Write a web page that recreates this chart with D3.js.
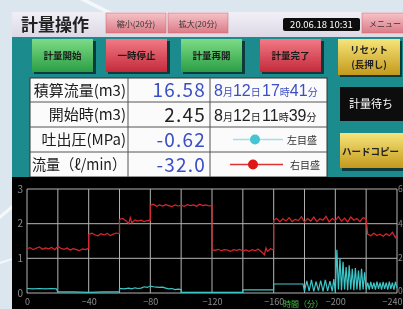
<!DOCTYPE html>
<html><head><meta charset="utf-8">
<script src="https://cdn.jsdelivr.net/npm/d3@7"></script>
<style>
html,body{margin:0;padding:0;background:#dce6ee;overflow:hidden}
svg{display:block}
text{font-family:"Noto Sans CJK JP","Noto Sans",sans-serif}
</style></head><body>
<svg id="c" width="403" height="309"></svg>
<script>
// ---------- data ----------
const timeTicks = [0,-40,-80,-120,-160,-200,-240];
const gridTimes = [0,-20,-40,-60,-80,-100,-120,-140,-160,-180,-200,-220,-240];
const leftTicks = [0,1,2,3];
const rightTicks = [0,2,4,6];
const rowLabels = ["積算流量(m3)","開始時(m3)","吐出圧(MPa)","流量（ℓ/min）"];
const rowValues = ["16.58","2.45","-0.62","-32.0"];
const dateTexts = ["8月12日 17時41分","8月12日 11時39分"];
const legendNames = ["左目盛","右目盛"];
const topButtons = ["縮小(20分)","拡大(20分)"];
const actionButtons = ["計量開始","一時停止","計量再開","計量完了"];
const statusText = "計量待ち";
const clockText = "20.06.18 10:31";
// red series (right scale), [time, value]
const redSeries = [[0,2.55],[-2,2.62],[-4,2.5],[-6,2.58],[-8,2.66],[-10,2.52],[-12,2.6],[-14,2.55],[-16,2.63],[-18,2.5],[-20,2.68],[-22,2.58],[-24,2.52],[-26,2.6],[-28,2.48],[-30,2.56],[-32,2.5],[-34,2.44],[-36,2.55],[-38,2.5],[-40,2.58],
[-40,3.38],[-42,3.45],[-44,3.36],[-46,3.3],[-48,3.42],[-50,3.35],[-52,3.44],[-54,3.32],[-56,3.4],[-58,3.46],[-60,3.42],
[-60,4.25],[-62,4.3],[-64,4.18],[-66,4.0],[-67,4.35],[-68,4.05],[-70,4.22],[-72,4.15],[-74,4.2],[-76,4.12],[-78,4.18],[-80,4.2],
[-80,5.05],[-82,5.12],[-84,5.0],[-86,5.08],[-88,5.02],[-90,5.1],[-92,5.04],[-94,4.98],[-96,5.08],[-98,5.02],[-100,5.06],[-102,5.0],[-104,5.1],[-106,5.04],[-108,5.08],[-110,5.0],[-112,5.12],[-114,5.04],[-116,5.08],[-118,5.02],[-120,5.06],
[-120,2.5],[-122,2.46],[-124,2.52],[-126,2.44],[-128,2.5],[-130,2.48],[-132,2.4],[-134,2.5],[-136,2.46],[-138,2.52],[-140,2.42],[-142,2.48],[-144,2.4],[-146,2.5],[-148,2.44],[-150,2.52],[-152,2.38],[-154,2.2],[-155,2.6],[-156,2.4],[-158,2.55],[-160,2.48],
[-160,4.2],[-162,4.3],[-164,4.1],[-166,4.28],[-168,4.15],[-170,4.35],[-172,4.12],[-174,4.25],[-176,4.18],[-178,4.4],[-180,4.1],[-182,4.3],[-184,4.15],[-186,4.38],[-188,4.12],[-190,4.28],[-192,4.2],[-194,4.42],[-196,4.1],[-198,4.3],[-200,4.18],[-202,4.4],[-204,4.15],[-206,4.32],[-208,4.1],[-210,4.38],[-212,4.2],[-214,4.3],[-216,4.12],[-218,4.35],[-220,4.25],
[-221,3.4],[-223,3.3],[-225,3.45],[-227,3.32],[-229,3.4],[-231,3.28],[-233,3.42],[-235,3.3],[-237,3.5],[-239,3.2],[-240,3.35]];
// cyan series (left scale), [time, value]
const cyanSeries = [[0,0.13],[-4,0.12],[-8,0.13],[-12,0.12],[-16,0.13],[-19,0.12],[-20,0.03],[-30,0.03],[-40,0.02],[-50,0.03],[-60,0.03],
[-60,0.13],[-63,0.12],[-66,0.14],[-68,0.12],[-70,0.15],[-72,0.13],[-74,0.14],[-76,0.18],[-78,0.16],[-80,0.2],[-82,0.18],[-84,0.17],[-86,0.16],[-88,0.17],[-90,0.14],[-92,0.12],[-94,0.13],[-96,0.1],[-98,0.11],[-100,0.1],
[-100,0.02],[-110,0.02],[-120,0.02],[-130,0.02],[-140,0.02],[-140,0.09],[-150,0.09],[-160,0.09],[-160,0.26],[-170,0.26],[-179,0.26],
[-180,0.05],[-181.5,0.35],[-183,0.06],[-184.5,0.38],[-186,0.05],[-187.5,0.33],[-189,0.07],[-190.5,0.36],[-192,0.05],[-193.5,0.38],[-195,0.06],[-196.5,0.34],[-198,0.05],[-199,0.4],
[-200,0.04],[-201,1.25],[-202,0.1],[-203,1.0],[-204,0.08],[-205,0.9],[-206,0.1],[-207,0.75],[-208,0.08],[-209,0.8],[-210,0.1],[-211,0.7],[-212,0.08],[-213,0.72],[-214,0.1],[-215,0.65],[-216,0.08],[-217,0.7],[-218,0.1],[-219,0.6],[-220,0.1],
[-221,0.3],[-222,0.1],[-223,0.32],[-224,0.12],[-225,0.3],[-226,0.1],[-227,0.33],[-228,0.12],[-229,0.3],[-230,0.1],[-231,0.32],[-232,0.12],[-233,0.3],[-234,0.1],[-235,0.33],[-236,0.12],[-237,0.3],[-238,0.1],[-239,0.32],[-240,0.15]];

// ---------- drawing ----------
const root = d3.select("#c");
const defs = root.append("defs");
defs.append("filter").attr("id","soft").attr("x",0).attr("y",0).attr("width",1).attr("height",1)
  .append("feGaussianBlur").attr("stdDeviation",0.35);
const svg = root.append("g").attr("filter","url(#soft)");
function grad(id, top, bot){
  const g = defs.append("linearGradient").attr("id",id).attr("x1",0).attr("y1",0).attr("x2",0).attr("y2",1);
  g.append("stop").attr("offset","0%").attr("stop-color",top);
  g.append("stop").attr("offset","100%").attr("stop-color",bot);
}
grad("gGreen","#7ddc86","#2b9e45");
grad("gRed","#f27a86","#c42a3a");
grad("gYellow","#f6e47a","#c49a1c");
grad("gPink","#f5c3c8","#dc7a86");
grad("gTitle","#f1eff6","#dcd9e6");

// background swooshes
svg.append("rect").attr("width",403).attr("height",309).attr("fill","#dce6ee");
svg.append("path").attr("d","M88,0 L112,12 L104,12 L80,0Z").attr("fill","#f4f8fb");
svg.append("path").attr("d","M0,215 L12,205 L12,209 L0,219Z").attr("fill","#f4f8fb");
svg.append("path").attr("d","M0,262 L12,258 L12,260 L0,264Z").attr("fill","#f4f8fb");

// title bar
svg.append("rect").attr("x",12).attr("y",12).attr("width",391).attr("height",25).attr("fill","url(#gTitle)");
svg.append("text").attr("x",21).attr("y",31).attr("font-size",17).attr("font-weight","bold").attr("fill","#222").text("計量操作");
topButtons.forEach((t,i)=>{
  const x = 106 + i*62;
  svg.append("rect").attr("x",x).attr("y",13).attr("width",60).attr("height",20).attr("fill","url(#gPink)").attr("stroke","#c66").attr("stroke-width",0.5);
  svg.append("text").attr("x",x+30).attr("y",26.5).attr("text-anchor","middle").attr("font-size",8).attr("fill","#333").text(t);
});
svg.append("rect").attr("x",283).attr("y",18).attr("width",77).attr("height",13).attr("rx",2).attr("fill","#111");
svg.append("text").attr("x",321.5).attr("y",28).attr("text-anchor","middle").attr("font-size",9.5).attr("font-family","Liberation Sans").attr("fill","#fff").text(clockText);
svg.append("rect").attr("x",362).attr("y",13).attr("width",45).attr("height",20).attr("fill","url(#gPink)").attr("stroke","#c66").attr("stroke-width",0.5);
svg.append("text").attr("x",369).attr("y",26.5).attr("font-size",8).attr("fill","#333").text("メニュー");

// teal panel
svg.append("rect").attr("x",12).attr("y",37).attr("width",391).attr("height",141).attr("fill","#1f8b8d");

// action buttons
const btnX = [32,106,181,260];
const btnFill = ["url(#gGreen)","url(#gRed)","url(#gGreen)","url(#gRed)"];
actionButtons.forEach((t,i)=>{
  svg.append("rect").attr("x",btnX[i]+2).attr("y",41).attr("width",62).attr("height",33).attr("fill","#0d3b3c");
  svg.append("rect").attr("x",btnX[i]).attr("y",39).attr("width",61).attr("height",33).attr("fill",btnFill[i]);
  svg.append("text").attr("x",btnX[i]+30.5).attr("y",59).attr("text-anchor","middle").attr("font-size",9.5).attr("font-weight","bold").attr("fill","#1a1a1a").text(t);
});
// reset button
svg.append("rect").attr("x",340).attr("y",41).attr("width",62).attr("height",36).attr("fill","#0d3b3c");
svg.append("rect").attr("x",338).attr("y",39).attr("width",62).attr("height",36).attr("fill","url(#gYellow)");
svg.append("text").attr("x",369).attr("y",53).attr("text-anchor","middle").attr("font-size",9.5).attr("font-weight","bold").attr("fill","#222").text("リセット");
svg.append("text").attr("x",369).attr("y",68).attr("text-anchor","middle").attr("font-size",9.5).attr("font-weight","bold").attr("fill","#222").text("(長押し)");
// status box
svg.append("rect").attr("x",340).attr("y",87).attr("width",63).attr("height",34).attr("fill","#0a0a0a");
svg.append("text").attr("x",371).attr("y",108).attr("text-anchor","middle").attr("font-size",11).attr("fill","#fff").text(statusText);
// hard copy button
svg.append("rect").attr("x",342).attr("y",135).attr("width",61).attr("height",36).attr("fill","#0d3b3c");
svg.append("rect").attr("x",340).attr("y",133).attr("width",63).attr("height",35).attr("fill","url(#gYellow)");
svg.append("text").attr("x",342).attr("y",155).attr("font-size",9.5).attr("font-weight","bold").attr("fill","#222").text("ハードコピー");

// table
const rowY = [78,102,127,152,177];
svg.append("rect").attr("x",30).attr("y",78).attr("width",297).attr("height",99).attr("fill","#fbfbfb").attr("stroke","#333").attr("stroke-width",1);
rowY.slice(1,4).forEach(y=>svg.append("line").attr("x1",30).attr("x2",327).attr("y1",y).attr("y2",y).attr("stroke","#555"));
[128,210].forEach(x=>svg.append("line").attr("x1",x).attr("x2",x).attr("y1",78).attr("y2",177).attr("stroke","#555"));
const valColors = ["#3b4fc4","#222","#3b4fc4","#3b4fc4"];
rowLabels.forEach((t,i)=>{
  const cy = (rowY[i]+rowY[i+1])/2;
  const lab = svg.append("text").attr("x",126).attr("y",cy+5.5).attr("text-anchor","end").attr("font-size",15).attr("fill","#1a1a1a").text(t);
  if (i===3) lab.attr("textLength",94).attr("lengthAdjust","spacingAndGlyphs");
  svg.append("text").attr("x",206).attr("y",cy+7).attr("text-anchor","end").attr("font-size",19).attr("letter-spacing",1.2)
    .attr("font-family","Liberation Sans").attr("fill",valColors[i]).text(rowValues[i]);
});
dateTexts.forEach((s,i)=>{
  const cy = (rowY[i]+rowY[i+1])/2;
  const t = svg.append("text").attr("x",214).attr("y",cy+6).attr("fill",i===0?"#3b4fc4":"#222");
  s.match(/(\d+|\s|[^\d\s]+)/g).forEach(p=>{
    const num = /\d/.test(p);
    t.append("tspan").attr("font-size",num?16:(p===" "?6:10)).attr("font-family",num?"Liberation Sans":null).text(p===" "?"\u00a0":p);
  });
});
// legend rows
const legColors = ["#44c4d4","#e01818"];
const legLine = [["#9fe0ea",233,283,255],["#e03030",230,283,253]];
legendNames.forEach((t,i)=>{
  const cy = (rowY[i+2]+rowY[i+3])/2;
  const L = legLine[i];
  svg.append("line").attr("x1",L[1]).attr("x2",L[2]).attr("y1",cy).attr("y2",cy).attr("stroke",L[0]).attr("stroke-width",1.5);
  svg.append("circle").attr("cx",L[3]).attr("cy",cy).attr("r",5).attr("fill",legColors[i]);
  svg.append("text").attr("x",287+i*3).attr("y",cy+4).attr("font-size",10).attr("fill","#333").text(t);
});

// chart
svg.append("rect").attr("x",12).attr("y",177).attr("width",391).attr("height",132).attr("fill","#050505");
const x = d3.scaleLinear().domain([0,-240]).range([27,397]);
const yL = d3.scaleLinear().domain([0,3]).range([293,189]);
const yR = d3.scaleLinear().domain([0,6]).range([293,189]);
const grid = svg.append("g");
grid.selectAll(".v").data(gridTimes).enter().append("line")
  .attr("x1",d=>x(d)).attr("x2",d=>x(d)).attr("y1",yL(3)).attr("y2",yL(0)).attr("stroke","#b0b0b0").attr("stroke-width",1);
grid.selectAll(".h").data(leftTicks).enter().append("line")
  .attr("x1",x(0)).attr("x2",x(-240)).attr("y1",d=>yL(d)).attr("y2",d=>yL(d)).attr("stroke","#b0b0b0").attr("stroke-width",1);

const axL = svg.append("g").attr("transform",`translate(${x(0)},0)`)
  .call(d3.axisLeft(yL).tickValues(leftTicks).tickSize(0).tickPadding(4).tickFormat(d3.format("d")));
const axR = svg.append("g").attr("transform",`translate(${x(-240)},0)`)
  .call(d3.axisRight(yR).tickValues(rightTicks).tickSize(0).tickPadding(1).tickFormat(d3.format("d")));
const axB = svg.append("g").attr("transform",`translate(0,${yL(0)})`)
  .call(d3.axisBottom(x).tickValues(timeTicks).tickSize(0).tickPadding(6).tickFormat(d3.format("d")));
[axL,axR,axB].forEach(a=>{
  a.select(".domain").remove();
  a.selectAll("text").attr("fill","#8a8a8a").attr("font-size",10).attr("font-family","Liberation Sans");
});
axB.selectAll("text").attr("font-size",9);
axR.selectAll("text").attr("font-size",8.5).attr("dy","0.3em");
axR.selectAll("text").filter(d=>d===0).attr("dy","0em");
axB.selectAll("text").filter(d=>d===-240).attr("text-anchor","end").attr("x",402-x(-240));
svg.append("text").attr("x",283).attr("y",307).attr("font-size",8).attr("fill","#3fbf3f").text("時間（分）");

const lineR = d3.line().x(d=>x(d[0])).y(d=>yR(d[1]));
const lineC = d3.line().x(d=>x(d[0])).y(d=>yL(d[1]));
svg.append("path").attr("d",lineC(cyanSeries)).attr("fill","none").attr("stroke","#3cc6c8").attr("stroke-width",1.2);
svg.append("path").attr("d",lineR(redSeries)).attr("fill","none").attr("stroke","#d8262c").attr("stroke-width",1.2);
</script>
</body></html>
